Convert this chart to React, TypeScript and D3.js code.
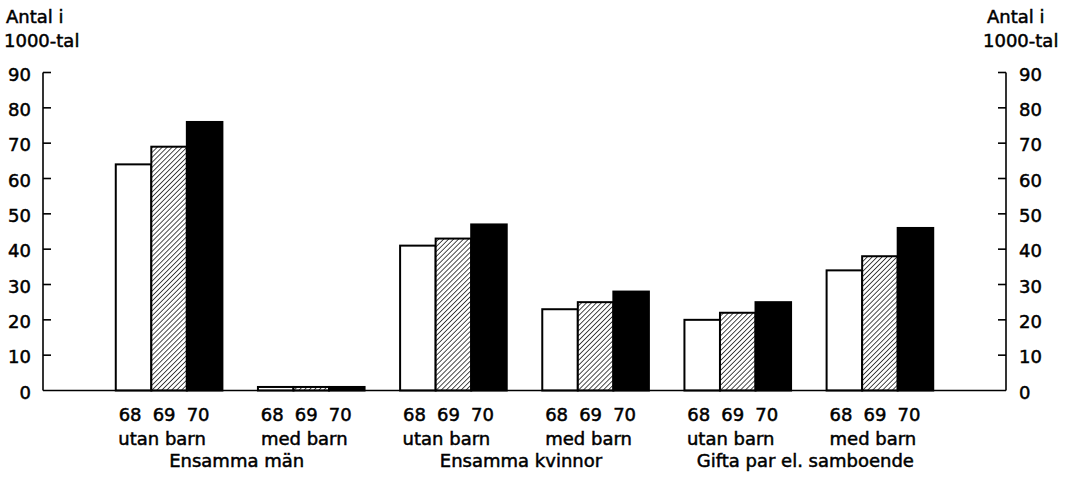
import React from "react";
import * as d3 from "d3";

const groups = ["Ensamma män|utan barn", "Ensamma män|med barn", "Ensamma kvinnor|utan barn", "Ensamma kvinnor|med barn", "Gifta|utan barn", "Gifta|med barn"];
const subLabels = ["utan barn", "med barn", "utan barn", "med barn", "utan barn", "med barn"];
const households = ["Ensamma män", "Ensamma kvinnor", "Gifta par el. samboende"];
const years = ["68", "69", "70"];
const values68 = [64, 1, 41, 23, 20, 34];
const values69 = [69, 1, 43, 25, 22, 38];
const values70 = [76, 1, 47, 28, 25, 46];
const yTicks = [0, 10, 20, 30, 40, 50, 60, 70, 80, 90];

const W = 1069;
const H = 477;
const axisL = 43;
const axisR = 1006;
const base = 390.5;
const top90 = 72.5;
const FONT = "'DejaVu Sans', Verdana, sans-serif";

export default function App() {
  const y = d3.scaleLinear().domain([0, 90]).range([base, top90]);
  const x = d3.scaleBand<string>().domain(groups).range([98, 951]).paddingInner(0.25).paddingOuter(0.125);
  const xs = d3.scaleBand<string>().domain(years).range([0, x.bandwidth()]);
  const series = [values68, values69, values70];
  const fills = ["#fff", "url(#hatch)", "#000"];
  const txt = { fontFamily: FONT, fontSize: 18, fill: "#000", stroke: "#000", strokeWidth: 0.5 } as const;

  return (
    <svg width={W} height={H} style={{ position: "absolute", left: 0, top: 0, background: "#fff" }}>
      <defs>
        <pattern id="hatch" width="3.5" height="3.5" patternUnits="userSpaceOnUse" patternTransform="rotate(45)">
          <rect width="3.5" height="3.5" fill="#fff" />
          <line x1="0" y1="0" x2="0" y2="3.5" stroke="#000" strokeWidth="1.4" />
        </pattern>
      </defs>
      <rect width={W} height={H} fill="#fff" />
      {/* axis titles */}
      <text x={6} y={23} {...txt}>Antal i</text>
      <text x={4} y={47} {...txt}>1000-tal</text>
      <text x={987} y={23} {...txt}>Antal i</text>
      <text x={983} y={47} {...txt}>1000-tal</text>
      {/* axes */}
      <line x1={axisL} x2={axisL} y1={y(90)} y2={base} stroke="#000" strokeWidth={1.6} />
      <line x1={axisR} x2={axisR} y1={y(90)} y2={base} stroke="#000" strokeWidth={1.6} />
      {yTicks.map((t) => (
        <g key={t}>
          {t > 0 && <line x1={axisL} x2={axisL + 8} y1={y(t)} y2={y(t)} stroke="#000" strokeWidth={1.6} />}
          {t > 0 && <line x1={axisR - 8} x2={axisR} y1={y(t)} y2={y(t)} stroke="#000" strokeWidth={1.6} />}
          <text x={31} y={y(t) + 8} textAnchor="end" {...txt}>{t}</text>
          <text x={1019} y={y(t) + 8} textAnchor="start" {...txt}>{t}</text>
        </g>
      ))}
      {/* bars */}
      {groups.map((g, gi) => (
        <g key={g} transform={`translate(${x(g)},0)`}>
          {years.map((yr, si) => {
            const v = series[si][gi];
            return (
              <rect key={yr} x={xs(yr)} y={y(v)} width={xs.bandwidth()} height={base - y(v)}
                fill={fills[si]} stroke="#000" strokeWidth={2} />
            );
          })}
          {years.map((yr, i) => (
            <text key={yr} x={x.bandwidth() / 2 - 5 + (i - 1) * 34} y={421} textAnchor="middle" {...txt}>{yr}</text>
          ))}
          <text x={x.bandwidth() / 2 - 7} y={445} textAnchor="middle" {...txt}>{subLabels[gi]}</text>
        </g>
      ))}
      <line x1={axisL} x2={axisR} y1={base} y2={base} stroke="#000" strokeWidth={1.6} />
      {households.map((h, i) => {
        const cx = ((x(groups[i * 2]) as number) + (x(groups[i * 2 + 1]) as number) + x.bandwidth()) / 2 - 3.5;
        return <text key={h} x={cx} y={467} textAnchor="middle" {...txt}>{h}</text>;
      })}
    </svg>
  );
}
